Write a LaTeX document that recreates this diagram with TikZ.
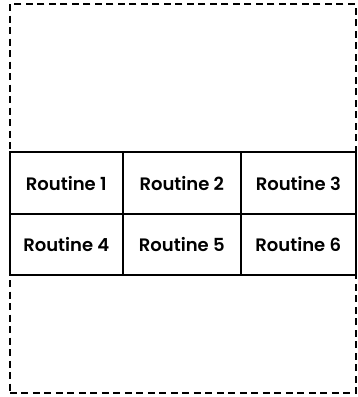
\documentclass[tikz,border=0pt]{standalone}
\usepackage{fontspec}
\setmainfont{Poppins}[UprightFont={* SemiBold}]
\begin{document}
\begin{tikzpicture}[x=1pt,y=1pt,
  cell/.style={draw, line width=1.6pt, rectangle, inner sep=0pt, anchor=south west, font=\fontsize{18}{20}\selectfont},
  outer/.style={draw, line width=1.7pt, dash pattern=on 7pt off 4.5pt}]
\useasboundingbox (0,0) rectangle (357,397);
\node[outer, rectangle, minimum width=346pt, minimum height=389pt, anchor=south west, inner sep=0pt] (frame) at (9,3) {};
\node[cell, minimum width=113pt, minimum height=62pt] (r1) at (9,182) {Routine 1};
\node[cell, minimum width=118pt, minimum height=62pt] (r2) at (122,182) {Routine 2};
\node[cell, minimum width=115pt, minimum height=62pt] (r3) at (240,182) {Routine 3};
\node[cell, minimum width=113pt, minimum height=61pt] (r4) at (9,121) {Routine 4};
\node[cell, minimum width=118pt, minimum height=61pt] (r5) at (122,121) {Routine 5};
\node[cell, minimum width=115pt, minimum height=61pt] (r6) at (240,121) {Routine 6};
\end{tikzpicture}
\end{document}
